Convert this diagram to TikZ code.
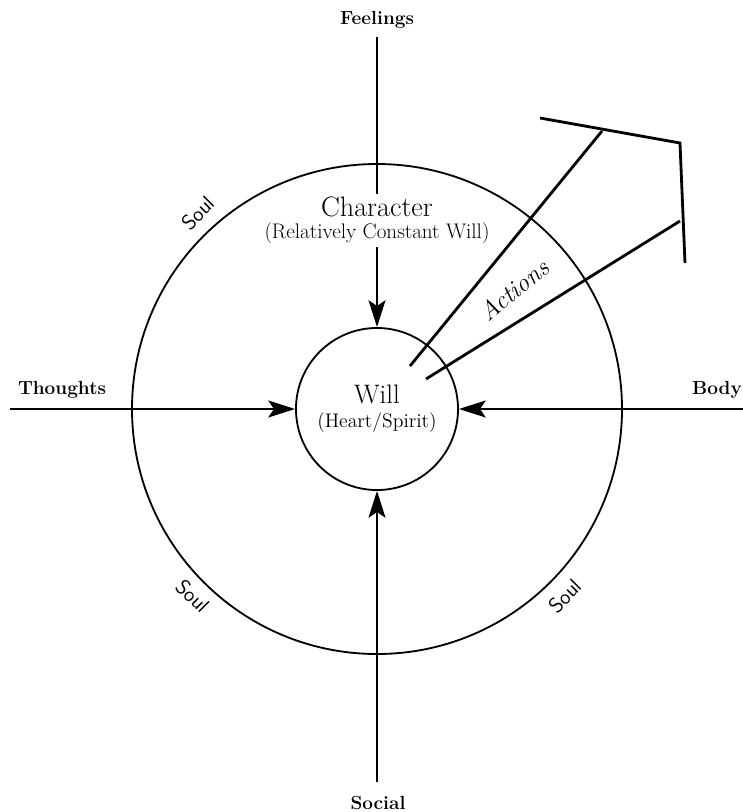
\documentclass[tikz,border=0pt]{standalone}
\usetikzlibrary{arrows.meta}
\begin{document}
\begin{tikzpicture}[x=0.025cm, y=-0.025cm,
  side/.style={font=\fontsize{13.5}{15}\selectfont\bfseries},
  soullbl/.style={font=\fontsize{15}{17}\selectfont\sffamily},
  arr/.style={line width=2pt, -{Stealth[length=19pt, width=12pt, inset=4pt]}},
  bar/.style={line width=2pt}]
\useasboundingbox (0,0) rectangle (743,812);

% soul ring and will
\draw[line width=1.3pt] (377,409) circle (245);
\node[draw, circle, line width=1.3pt, minimum size=4.05cm, inner sep=0pt, align=center,
  font=\fontsize{14}{17}\selectfont] at (377,409) (will)
  {{\fontsize{19}{21}\selectfont Will}\\(Heart/Spirit)};

\node[inner sep=2pt] at (377,207) (character) {\fontsize{20}{24}\selectfont Character};
\node[inner sep=2pt] at (377,233) (constant) {\fontsize{15}{18}\selectfont (Relatively Constant Will)};

\node[side] at (377,20) (feelings) {Feelings};
\node[side] at (62,390) (thoughts) {Thoughts};
\node[side] at (717,390) (body) {Body};
\node[side] at (378,803) (social) {Social};

\coordinate (fstart) at (377,37);
\coordinate (tstart) at (10,409);
\coordinate (bstart) at (743,409);
\coordinate (sstart) at (377,782);

\draw[bar] (fstart) -- (character.north);
\draw[arr] (constant.south) -- (will.north);
\draw[arr] (tstart) -- (will.west);
\draw[arr] (bstart) -- (will.east);
\draw[arr] (sstart) -- (will.south);

% actions arrow
\coordinate (a1) at (410,366);
\coordinate (a2) at (602,131);
\coordinate (b1) at (426,379);
\coordinate (b2) at (680,221);
\coordinate (h1) at (540,118);
\coordinate (h2) at (680,143);
\coordinate (h3) at (685,263);
\draw[bar] (a1) -- (a2);
\draw[bar] (b1) -- (b2);
\draw[bar, line join=miter] (h1) -- (h2) -- (h3);
\node[rotate=40] at (514,290) (actions) {\fontsize{18}{21}\selectfont\itshape Actions};

\node[soullbl, rotate=45] at (198,213) (soul1) {Soul};
\node[soullbl, rotate=-45] at (193,596) (soul2) {Soul};
\node[soullbl, rotate=45] at (565,596) (soul3) {Soul};
\end{tikzpicture}
\end{document}
